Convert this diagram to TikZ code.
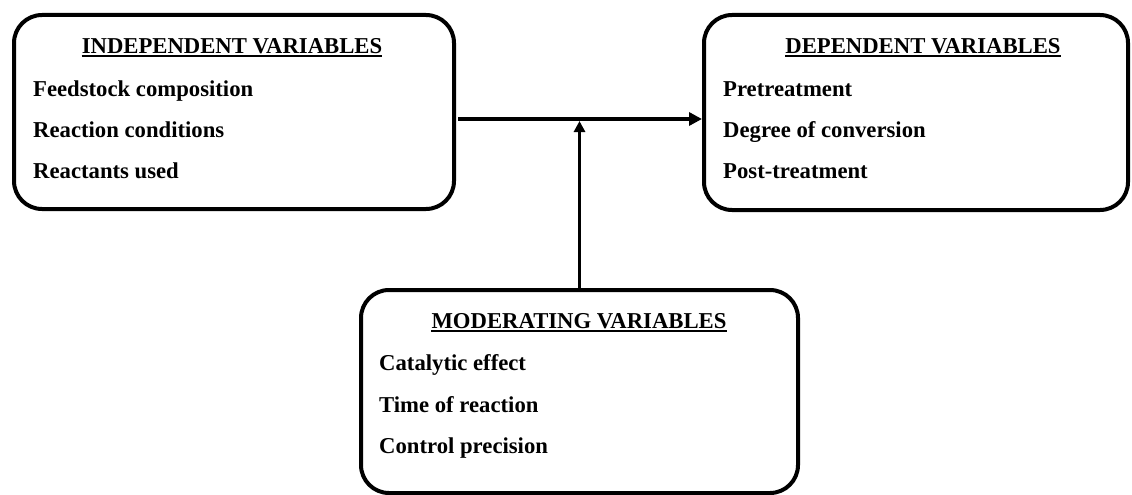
\documentclass[tikz,border=0pt]{standalone}
\usepackage{fontspec}
\setmainfont{Liberation Serif}
\usetikzlibrary{arrows.meta,calc}
\begin{document}
\begin{tikzpicture}[x=1pt,y=-1pt,
  box/.style={draw,line width=4pt,rounded corners=28pt,inner sep=0pt},
  ttl/.style={anchor=base,font=\fontsize{22.7}{26}\selectfont\bfseries,inner sep=0pt},
  itm/.style={anchor=base west,font=\fontsize{22.7}{26}\selectfont\bfseries,inner sep=0pt},
  uline/.style={line width=1.5pt},
  arr/.style={line width=4pt,-{Triangle[length=13pt,width=13pt]}},
  varr/.style={line width=3pt,-{Triangle[length=11pt,width=11pt]}}]
\useasboundingbox (0,0) rectangle (1132,495);
% boxes
\node[box,minimum width=440pt,minimum height=194pt] (b1) at (234,112) {};
\node[box,minimum width=424pt,minimum height=195pt] (b2) at (916,112.5) {};
\node[box,minimum width=437pt,minimum height=203pt] (b3) at (579.5,391.5) {};
% titles
\node[ttl] (t1) at (232,53) {INDEPENDENT VARIABLES};
\node[ttl] (t2) at (923,53) {DEPENDENT VARIABLES};
\node[ttl] (t3) at (579,328) {MODERATING VARIABLES};
\foreach \t in {t1,t2,t3}{
  \draw[uline] ([yshift=-3pt]\t.base west) -- ([yshift=-3pt]\t.base east);
}
% items
\node[itm] (i11) at (33,96) {Feedstock composition};
\node[itm] (i12) at (33,137) {Reaction conditions};
\node[itm] (i13) at (33,178) {Reactants used};
\node[itm] (i21) at (723,96) {Pretreatment};
\node[itm] (i22) at (723,137) {Degree of conversion};
\node[itm] (i23) at (723,178) {Post-treatment};
\node[itm] (i31) at (379,370) {Catalytic effect};
\node[itm] (i32) at (379,412) {Time of reaction};
\node[itm] (i33) at (379,453) {Control precision};
% connectors
\coordinate (hs) at ([xshift=2pt,yshift=-7pt]b1.east);
\coordinate (he) at (b2.west |- hs);
\draw[arr] (hs) -- (he);
\coordinate (vt) at ([yshift=-2pt]b3.north |- hs);
\draw[varr] (b3.north) -- (vt);
\end{tikzpicture}
\end{document}
